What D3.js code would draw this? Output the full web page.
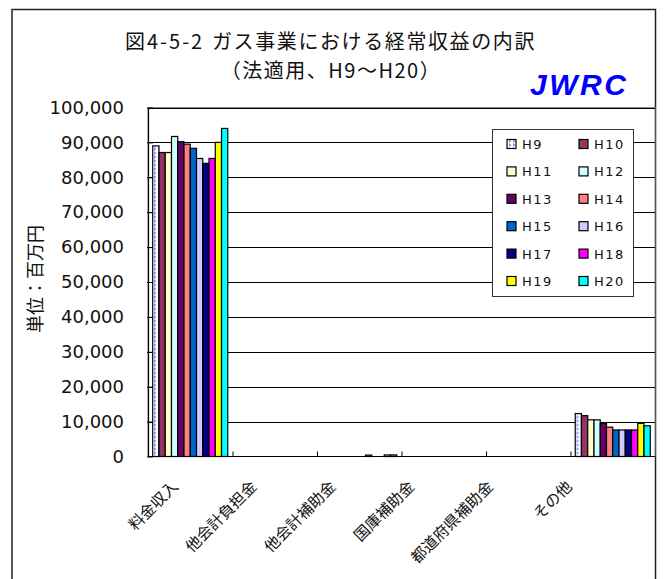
<!DOCTYPE html>
<html>
<head>
<meta charset="utf-8">
<script src="https://cdn.jsdelivr.net/npm/d3@7"></script>
<style>
body { margin: 0; background: #fff; }
svg { display: block; }
.jp { font-family: "Noto Sans CJK JP", sans-serif; }
.num { font-family: "DejaVu Sans", sans-serif; }
</style>
</head>
<body>
<script>
(function(){
var categories = ["料金収入", "他会計負担金", "他会計補助金", "国庫補助金", "都道府県補助金", "その他"];
var years = ["H9", "H10", "H11", "H12", "H13", "H14", "H15", "H16", "H17", "H18", "H19", "H20"];
// values by category, one per year H9..H20 (million yen)
var ryokinShunyu   = [89000, 87100, 87100, 91700, 90200, 89500, 88300, 85400, 84000, 85400, 90000, 94000];
var taKaikeiFutan  = [0, 0, 0, 0, 0, 0, 0, 0, 0, 0, 0, 0];
var taKaikeiHojo   = [0, 0, 0, 0, 0, 0, 0, 400, 0, 0, 450, 450];
var kokkoHojo      = [0, 0, 0, 0, 0, 0, 0, 0, 0, 0, 0, 0];
var todofukenHojo  = [0, 0, 0, 0, 0, 0, 0, 0, 0, 0, 0, 0];
var sonota         = [12300, 11700, 10500, 10500, 9500, 8400, 7600, 7600, 7600, 7600, 9500, 8800];
var yTicks = [0, 10000, 20000, 30000, 40000, 50000, 60000, 70000, 80000, 90000, 100000];
var colors = ["url(#h9fill)", "#993366", "#FFFFCC", "#CCFFFF", "#660066", "#FF8080",
              "#0066CC", "#CCCCFF", "#000080", "#FF00FF", "#FFFF00", "#00FFFF"];

var groups = [ryokinShunyu, taKaikeiFutan, taKaikeiHojo, kokkoHojo, todofukenHojo, sonota];

var width = 665, height = 579;
var plot = {left: 148, right: 655, top: 107.5, bottom: 456.5};

var svg = d3.select("body").append("svg")
    .attr("width", width)
    .attr("height", height);

// dotted fill for H9
var defs = svg.append("defs");
var pat = defs.append("pattern")
    .attr("id", "h9fill")
    .attr("patternUnits", "userSpaceOnUse")
    .attr("width", 4)
    .attr("height", 4);
pat.append("rect").attr("width", 4).attr("height", 4).attr("fill", "#fff");
pat.append("rect").attr("x", 2).attr("y", 0).attr("width", 2).attr("height", 2).attr("fill", "#9999FF");
pat.append("rect").attr("x", 2).attr("y", 2).attr("width", 1).attr("height", 2).attr("fill", "#b8b8ff");

// chart frame
svg.append("rect")
    .attr("x", 12).attr("y", 9.5)
    .attr("width", 643.5).attr("height", 620)
    .attr("fill", "#fff")
    .attr("stroke", "#222")
    .attr("stroke-width", 1.5);

// plot area
svg.append("rect")
    .attr("x", plot.left).attr("y", plot.top)
    .attr("width", plot.right - plot.left).attr("height", plot.bottom - plot.top)
    .attr("fill", "#fff")
    .attr("stroke", "#888")
    .attr("stroke-width", 1);

var x0 = d3.scaleBand()
    .domain(categories)
    .range([plot.left, plot.right]);

var gap = x0.bandwidth() * 0.056;
var x1 = d3.scaleBand()
    .domain(years)
    .range([gap, x0.bandwidth() - gap]);

var y = d3.scaleLinear()
    .domain([0, 100000])
    .range([plot.bottom, plot.top]);

// gridlines
svg.append("g")
    .selectAll("line")
    .data(yTicks.slice(1))
    .enter()
    .append("line")
    .attr("x1", plot.left)
    .attr("x2", plot.right)
    .attr("y1", function(d){ return Math.round(y(d)) + 0.5; })
    .attr("y2", function(d){ return Math.round(y(d)) + 0.5; })
    .attr("stroke", "#000")
    .attr("stroke-width", 1);

// bars
var g = svg.append("g")
    .selectAll("g")
    .data(groups)
    .enter()
    .append("g")
    .attr("transform", function(d, i){ return "translate(" + x0(categories[i]) + ",0)"; });

g.selectAll("rect")
    .data(function(d){ return d; })
    .enter()
    .append("rect")
    .attr("x", function(d, i){ return x1(years[i]); })
    .attr("width", x1.bandwidth())
    .attr("y", function(d){ return y(d); })
    .attr("height", function(d){ return y(0) - y(d); })
    .attr("fill", function(d, i){ return colors[i]; })
    .attr("stroke", "#000")
    .attr("stroke-width", 1.2);

// y axis
var yAxis = d3.axisLeft(y)
    .tickValues(yTicks)
    .tickFormat(d3.format(","))
    .tickSizeInner(5)
    .tickSizeOuter(0)
    .tickPadding(20);

var ya = svg.append("g")
    .attr("transform", "translate(" + plot.left + ",0)")
    .call(yAxis);
ya.select(".domain").attr("stroke", "#000").attr("stroke-width", 1.2);
ya.selectAll(".tick line").attr("stroke", "#000").attr("x2", 5).attr("x1", -1);
ya.selectAll("text")
    .attr("class", "num")
    .attr("font-size", 18)
    .attr("fill", "#111")
    .attr("x", -24);

// x axis
var xa = svg.append("g")
    .attr("transform", "translate(0," + plot.bottom + ")");
xa.append("line")
    .attr("x1", plot.left).attr("x2", plot.right)
    .attr("stroke", "#000").attr("stroke-width", 1.2);
xa.selectAll(".xtick")
    .data(categories.slice(1))
    .enter()
    .append("line")
    .attr("class", "xtick")
    .attr("x1", function(d){ return x0(d) + 0.5; })
    .attr("x2", function(d){ return x0(d) + 0.5; })
    .attr("y1", 0).attr("y2", -5)
    .attr("stroke", "#000");

// category labels (Excel spaces rotated labels slightly tighter than the bands)
var xl = d3.scalePoint()
    .domain(categories)
    .range([plot.left + 31, plot.left + 425]);

svg.append("g")
    .selectAll("text")
    .data(categories)
    .enter()
    .append("text")
    .attr("class", "jp")
    .attr("font-size", 15.5)
    .attr("fill", "#111")
    .attr("text-anchor", "end")
    .attr("transform", function(d){
        return "translate(" + xl(d) + "," + (plot.bottom + 31) + ") rotate(-45)";
    })
    .text(function(d){ return d; });

// y title
svg.append("text")
    .attr("class", "jp")
    .attr("font-size", 18)
    .attr("fill", "#111")
    .attr("text-anchor", "middle")
    .attr("transform", "translate(42,279) rotate(-90)")
    .text("単位：百万円");

// title
var t1 = svg.append("text")
    .attr("class", "jp")
    .attr("font-size", 20)
    .attr("fill", "#111")
    .attr("y", 49);
t1.append("tspan")
    .attr("x", 125)
    .attr("letter-spacing", 2)
    .text("図4-5-2");
t1.append("tspan")
    .attr("x", 212)
    .attr("letter-spacing", 1.6)
    .text("ガス事業における経常収益の内訳");
svg.append("text")
    .attr("class", "jp")
    .attr("font-size", 20)
    .attr("fill", "#111")
    .attr("text-anchor", "middle")
    .attr("letter-spacing", 1.5)
    .attr("x", 331).attr("y", 78)
    .text("（法適用、H9～H20）");

svg.append("text")
    .attr("font-family", "Liberation Sans, Arial, sans-serif")
    .attr("font-size", 30)
    .attr("font-weight", "bold")
    .attr("font-style", "italic")
    .attr("fill", "#0000FF")
    .attr("x", 530).attr("y", 95)
    .attr("textLength", 96)
    .attr("lengthAdjust", "spacing")
    .text("JWRC");

// legend
var lg = svg.append("g");
lg.append("rect")
    .attr("x", 492.5).attr("y", 129.5)
    .attr("width", 141).attr("height", 167)
    .attr("fill", "#fff")
    .attr("stroke", "#333")
    .attr("stroke-width", 1);

var items = lg.selectAll(".item")
    .data(years)
    .enter()
    .append("g")
    .attr("class", "item")
    .attr("transform", function(d, i){
        return "translate(" + (i % 2 === 0 ? 507 : 579) + "," + (144 + Math.floor(i / 2) * 27.4) + ")";
    });
items.append("rect")
    .attr("x", 0).attr("y", -4.5)
    .attr("width", 9).attr("height", 9)
    .attr("fill", function(d, i){ return colors[i]; })
    .attr("stroke", "#000")
    .attr("stroke-width", 1.2);
items.append("text")
    .attr("class", "num")
    .attr("font-size", 13)
    .attr("letter-spacing", 1.5)
    .attr("fill", "#111")
    .attr("x", 15).attr("y", 5)
    .text(function(d){ return d; });
})();
</script>
</body>
</html>
